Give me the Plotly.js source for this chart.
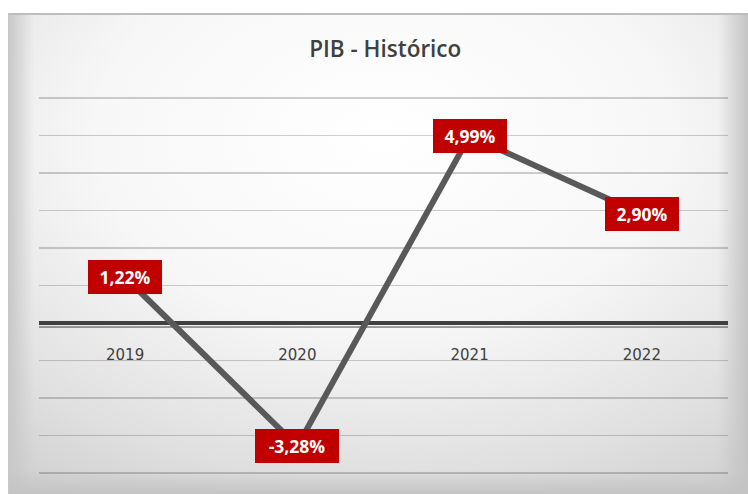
<!DOCTYPE html>
<html>
<head>
<meta charset="utf-8">
<script src="https://cdn.plot.ly/plotly-3.0.1.min.js"></script>
<style>html,body{margin:0;padding:0;background:#fff;}#chart{width:748px;height:494px;}</style>
</head>
<body>
<div id="chart"></div>
<script>
// Data
const years = ['2019', '2020', '2021', '2022'];
const pib = [1.22, -3.28, 4.99, 2.90];
const chartTitle = 'PIB - Histórico';

const W = 748, H = 494;
const M = {l: 39, r: 20, t: 96, b: 19};
const PW = W - M.l - M.r, PH = H - M.t - M.b;
const YR = [-4.05, 6.05];

const bg = `<svg xmlns="http://www.w3.org/2000/svg" width="${W}" height="${H}" viewBox="0 0 ${W} ${H}">
<defs>
<radialGradient id="rg" cx="0.5" cy="0.25" r="0.85">
<stop offset="0" stop-color="#ffffff"/><stop offset="0.45" stop-color="#f7f7f7"/><stop offset="0.8" stop-color="#e0e0e0"/><stop offset="1" stop-color="#d0d0d0"/>
</radialGradient>
<linearGradient id="lg" x1="0" x2="1" y1="0" y2="0"><stop offset="0" stop-color="#c8c8c8" stop-opacity="1"/><stop offset="1" stop-color="#c8c8c8" stop-opacity="0"/></linearGradient>
<linearGradient id="rgr" x1="0" x2="1" y1="0" y2="0"><stop offset="0" stop-color="#c4c4c4" stop-opacity="0"/><stop offset="1" stop-color="#c4c4c4" stop-opacity="1"/></linearGradient>
<linearGradient id="bgr" x1="0" x2="0" y1="0" y2="1"><stop offset="0" stop-color="#c4c4c4" stop-opacity="0"/><stop offset="1" stop-color="#c4c4c4" stop-opacity="1"/></linearGradient>
</defs>
<rect x="0" y="0" width="${W}" height="${H}" fill="#ffffff"/>
<rect x="8" y="14" width="${W}" height="${H}" fill="url(#rg)"/>
<rect x="8" y="14" width="26" height="${H}" fill="url(#lg)"/>
<rect x="${W-30}" y="14" width="30" height="${H}" fill="url(#rgr)"/>
<rect x="8" y="${H-24}" width="${W}" height="24" fill="url(#bgr)"/>
<line x1="8" y1="14" x2="${W}" y2="14" stroke="#bdbdbd" stroke-width="2"/>
<line x1="8.5" y1="14" x2="8.5" y2="${H}" stroke="#c8c8c8" stroke-width="1"/>
</svg>`;
const bgSrc = 'data:image/svg+xml;charset=utf-8,' + encodeURIComponent(bg);

const fmt = v => v.toFixed(2).replace('.', ',') + '%';

const trace = {
  x: years,
  y: pib,
  type: 'scatter',
  mode: 'lines',
  line: {color: '#595959', width: 6},
  hoverinfo: 'skip'
};

// annotations positioned by category index on the category axis
const annotations = years.map((yr, i) => {
  const t = fmt(pib[i]);
  return {
    x: i, y: pib[i], xref: 'x', yref: 'y',
    text: '<b>' + t + '</b>',
    showarrow: false,
    font: {family: 'Open Sans', size: 17.5, color: '#ffffff'},
    bgcolor: '#C00000',
    borderwidth: 0,
    borderpad: 6,
    width: 12 + 10 * t.length,
    height: 22,
    align: 'center',
    valign: 'middle'
  };
});

const layout = {
  width: W, height: H,
  margin: M,
  paper_bgcolor: '#ffffff',
  plot_bgcolor: 'rgba(0,0,0,0)',
  showlegend: false,
  title: {
    text: chartTitle,
    font: {family: 'Open Sans', size: 22.5, color: '#404040', weight: 600},
    x: 0.515, xanchor: 'center', y: 0.9, yanchor: 'middle'
  },
  xaxis: {
    type: 'category',
    range: [-0.5, 3.5],
    anchor: 'free',
    position: (0 - YR[0]) / (YR[1] - YR[0]),
    showgrid: false,
    zeroline: false,
    showline: false,
    ticks: 'outside',
    ticklen: 18,
    tickcolor: 'rgba(0,0,0,0)',
    tickfont: {family: 'DejaVu Sans', size: 15, color: '#404040'},
    fixedrange: true
  },
  yaxis: {
    range: YR,
    tickvals: [-4, -3, -2, -1, 0, 1, 2, 3, 4, 5, 6],
    showticklabels: false,
    showgrid: true,
    gridcolor: 'rgba(0,0,0,0.19)',
    gridwidth: 1.5,
    zeroline: true,
    zerolinecolor: '#404040',
    zerolinewidth: 4,
    showline: false,
    ticks: '',
    fixedrange: true
  },
  shapes: [{
    type: 'line', xref: 'paper', yref: 'y',
    x0: 0, x1: 1, y0: -4, y1: -4,
    ysizemode: 'pixel', yanchor: 0,
    line: {color: '#404040', width: 1},
    layer: 'below'
  }],
  images: [{
    source: bgSrc,
    xref: 'paper', yref: 'paper',
    x: -M.l / PW, y: 1 + M.t / PH,
    sizex: W / PW, sizey: H / PH,
    xanchor: 'left', yanchor: 'top',
    sizing: 'stretch',
    layer: 'below'
  }],
  annotations: annotations
};

Plotly.newPlot('chart', [trace], layout, {displayModeBar: false, staticPlot: true});
</script>
</body>
</html>
